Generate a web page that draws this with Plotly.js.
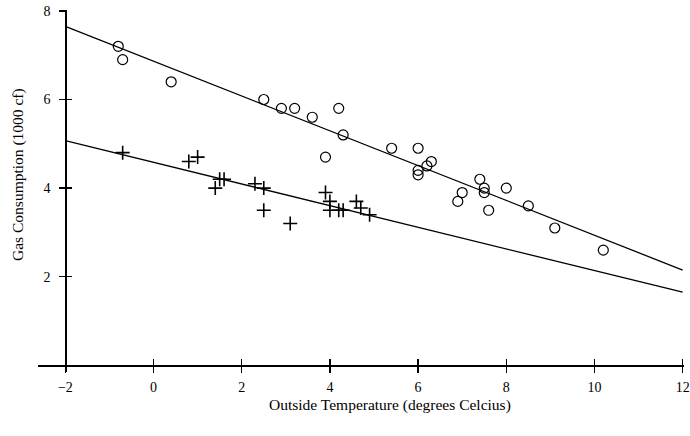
<!DOCTYPE html>
<html>
<head>
<meta charset="utf-8">
<script src="https://cdn.plot.ly/plotly-3.0.1.min.js"></script>
<style>html,body{margin:0;padding:0;background:#fff;}#chart{width:690px;height:436px;}</style>
</head>
<body>
<div id="chart"></div>
<script>
// Before insulation (circles)
var beforeTemp = [-0.8, -0.7, 0.4, 2.5, 2.9, 3.2, 3.6, 3.9, 4.2, 4.3, 5.4, 6.0, 6.0, 6.0, 6.2, 6.3, 6.9, 7.0, 7.4, 7.5, 7.5, 7.6, 8.0, 8.5, 9.1, 10.2];
var beforeGas  = [7.2, 6.9, 6.4, 6.0, 5.8, 5.8, 5.6, 4.7, 5.8, 5.2, 4.9, 4.9, 4.3, 4.4, 4.5, 4.6, 3.7, 3.9, 4.2, 4.0, 3.9, 3.5, 4.0, 3.6, 3.1, 2.6];
// After insulation (plus signs)
var afterTemp = [-0.7, 0.8, 1.0, 1.4, 1.5, 1.6, 2.3, 2.5, 2.5, 3.1, 3.9, 4.0, 4.0, 4.2, 4.3, 4.6, 4.7, 4.9];
var afterGas  = [4.8, 4.6, 4.7, 4.0, 4.2, 4.2, 4.1, 4.0, 3.5, 3.2, 3.9, 3.5, 3.7, 3.5, 3.5, 3.7, 3.55, 3.4];
// Fitted lines
var lineTemp = [-2, 12];
var beforeLine = [7.65, 2.15];
var afterLine = [5.07, 1.65];
var xTicks = [-2, 0, 2, 4, 6, 8, 10, 12];
var yTicks = [2, 4, 6, 8];

var xRange = [-2.62, 12.03];
var yRange = [-0.15, 8.02];
var xPos = (0 - yRange[0]) / (yRange[1] - yRange[0]);
var yPos = (-2 - xRange[0]) / (xRange[1] - xRange[0]);

var traces = [
  {x: lineTemp, y: beforeLine, mode: 'lines', line: {color: '#000', width: 1.3}, hoverinfo: 'skip'},
  {x: lineTemp, y: afterLine, mode: 'lines', line: {color: '#000', width: 1.3}, hoverinfo: 'skip'},
  {x: beforeTemp, y: beforeGas, mode: 'markers', marker: {symbol: 'circle-open', size: 10, color: '#000', line: {width: 1.2, color: '#000'}}},
  {x: afterTemp, y: afterGas, mode: 'markers', marker: {symbol: 'cross-thin-open', size: 10, color: '#000', line: {width: 1.6, color: '#000'}}},
  {x: [], y: [], xaxis: 'x2', yaxis: 'y2', mode: 'markers'}
];

var tickFont = {family: 'Liberation Serif, Times New Roman, serif', size: 14, color: '#000'};
var titleFont = {family: 'Liberation Serif, Times New Roman, serif', size: 15.5, color: '#000'};

var layout = {
  width: 690, height: 436,
  margin: {l: 38, r: 6, t: 10, b: 64},
  paper_bgcolor: '#fff', plot_bgcolor: '#fff',
  showlegend: false,
  font: tickFont,
  xaxis: {range: xRange, anchor: 'free', position: xPos, showline: true, linecolor: '#000', linewidth: 1.5,
          ticks: 'outside', ticklen: 6, tickwidth: 1.5, tickcolor: '#000', tickvals: xTicks,
          ticktext: xTicks.map(function(v){return v < 0 ? '\u2212' + Math.abs(v) : String(v);}),
          showgrid: false, zeroline: false, tickfont: tickFont, ticklabelstandoff: 2,
          ticklabeloverflow: 'allow'},
  yaxis: {range: yRange, anchor: 'free', position: yPos, showline: true, linecolor: '#000', linewidth: 1.5,
          ticks: 'outside', ticklen: 6, tickwidth: 1.5, tickcolor: '#000', tickvals: yTicks,
          showgrid: false, zeroline: false, tickfont: tickFont, ticklabelstandoff: 6,
          ticklabeloverflow: 'allow'},
  xaxis2: {range: xRange, overlaying: 'x', anchor: 'free', position: xPos, showline: false,
          ticks: 'inside', ticklen: 6, tickwidth: 1.5, tickcolor: '#000', tickvals: xTicks,
          showticklabels: false, showgrid: false, zeroline: false},
  yaxis2: {range: yRange, overlaying: 'y', anchor: 'free', position: yPos, showline: false,
          ticks: 'inside', ticklen: 6, tickwidth: 1.5, tickcolor: '#000', tickvals: yTicks,
          showticklabels: false, showgrid: false, zeroline: false},
  annotations: [
    {text: 'Outside Temperature (degrees Celcius)', xref: 'paper', yref: 'paper', x: 0.545, y: -0.0914,
     showarrow: false, font: titleFont, xanchor: 'center', yanchor: 'middle'},
    {text: 'Gas Consumption (1000 cf)', xref: 'paper', yref: 'paper', x: -0.03, y: 0.546,
     showarrow: false, font: titleFont, textangle: -90, xanchor: 'center', yanchor: 'middle'}
  ]
};

Plotly.newPlot('chart', traces, layout, {staticPlot: true, displayModeBar: false});
</script>
</body>
</html>
